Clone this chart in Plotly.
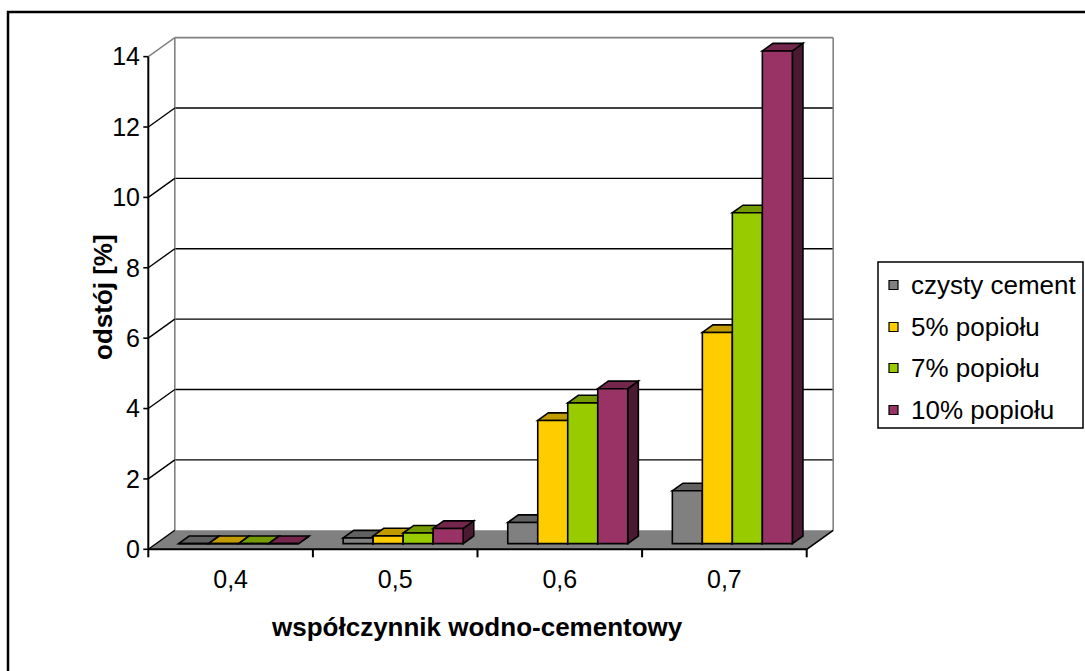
import plotly.graph_objects as go

# ---- data -------------------------------------------------------------
categories = ["0,4", "0,5", "0,6", "0,7"]
series_names = ["czysty cement", "5% popiołu", "7% popiołu", "10% popiołu"]
czysty_cement = [0.0, 0.16, 0.6, 1.5]
popiol_5 = [0.0, 0.22, 3.5, 6.0]
popiol_7 = [0.0, 0.30, 4.0, 9.4]
popiol_10 = [0.0, 0.43, 4.4, 14.0]
y_ticks = [0, 2, 4, 6, 8, 10, 12, 14]

series_values = [czysty_cement, popiol_5, popiol_7, popiol_10]
front_colors = ["#808080", "#FFCC00", "#99CC00", "#993366"]

FONT = "Liberation Sans"
TICK_SIZE = 25
LEGEND_SIZE = 26
TITLE_SIZE = 26


def shade(hex_color, k):
    r, g, b = (int(hex_color[i:i + 2], 16) for i in (1, 3, 5))
    return "#%02x%02x%02x" % (int(r * k), int(g * k), int(b * k))


top_colors = [shade(c, 0.76) for c in front_colors]
side_colors = [shade(c, 0.5) for c in front_colors]

# ---- page / plot-area geometry ---------------------------------------
FIG_W, FIG_H = 1085, 671
M_L, M_R, M_T, M_B = 141, 240, 30, 111
PLOT_W = FIG_W - M_L - M_R
PLOT_H = FIG_H - M_T - M_B
PX_CAT = 164.6          # pixels per category
PX_UNIT = 35.19         # pixels per value unit
AXIS_PX_X = 148.3       # front value axis
ZERO_PX_Y = 549.3       # front category axis

x_lo = -0.5 - (AXIS_PX_X - M_L) / PX_CAT
x_hi = x_lo + PLOT_W / PX_CAT
y_lo = -(M_T + PLOT_H - ZERO_PX_Y) / PX_UNIT
y_hi = y_lo + PLOT_H / PX_UNIT

# oblique depth of the floor / walls (in data units)
DX = 26.5 / PX_CAT
DY = 19.0 / PX_UNIT
Z_FRONT, Z_BACK = 0.3, 0.7
BW = 30.0 / PX_CAT      # bar width
n_cat = len(categories)
left_edge, right_edge = -0.5, n_cat - 0.5
v_max = y_ticks[-1]


def px_to_paper(px, py):
    return (px - M_L) / PLOT_W, (M_T + PLOT_H - py) / PLOT_H


def seg(x0, y0, x1, y1, color="black", width=1.5, layer="below"):
    return dict(type="line", xref="x", yref="y", x0=x0, y0=y0, x1=x1, y1=y1,
                line=dict(color=color, width=width), layer=layer)


def poly(points, fill, line_color="black", width=1.5, layer="below"):
    path = "M " + " L ".join("%.5f,%.5f" % p for p in points) + " Z"
    return dict(type="path", xref="x", yref="y", path=path, fillcolor=fill,
                line=dict(color=line_color, width=width), layer=layer)


shapes = []

# floor
shapes.append(poly([(left_edge, 0), (right_edge, 0), (right_edge + DX, DY),
                    (left_edge + DX, DY)], "#808080", line_color="rgba(0,0,0,0)", width=0))

# back wall gridlines and frame
for v in y_ticks[1:-1]:
    shapes.append(seg(left_edge + DX, v + DY, right_edge + DX, v + DY, width=1.4))
shapes.append(seg(left_edge + DX, DY, left_edge + DX, v_max + DY, color="#808080", width=1.6))
shapes.append(seg(right_edge + DX, DY, right_edge + DX, v_max + DY, color="#808080", width=1.6))
shapes.append(seg(left_edge + DX, v_max + DY, right_edge + DX, v_max + DY, color="#808080", width=1.6))

# side-wall gridlines
for v in y_ticks:
    col = "#808080" if v == v_max else "black"
    shapes.append(seg(left_edge, v, left_edge + DX, v + DY, color=col, width=1.4))

# floor right edge
shapes.append(seg(right_edge, 0, right_edge + DX, DY, width=1.6))

# value axis with tick marks
shapes.append(seg(left_edge, 0, left_edge, v_max, width=2))
for v in y_ticks:
    shapes.append(seg(left_edge - 5 / PX_CAT, v, left_edge, v, width=1.6))

# category axis with tick marks at category boundaries
shapes.append(seg(left_edge, 0, right_edge, 0, width=2))
for i in range(n_cat + 1):
    b = left_edge + i
    shapes.append(seg(b, 0, b, -8 / PX_UNIT, width=2))

# bar top and side faces (fronts are the bar traces)
base = Z_FRONT * DY
ddx = (Z_BACK - Z_FRONT) * DX
ddy = (Z_BACK - Z_FRONT) * DY
for ci in range(n_cat):
    for si, vals in enumerate(series_values):
        x0 = ci - 2 * BW + si * BW + Z_FRONT * DX
        top = base + vals[ci]
        shapes.append(poly([(x0 + BW, base), (x0 + BW, top), (x0 + BW + ddx, top + ddy),
                            (x0 + BW + ddx, base + ddy)], side_colors[si], width=1.6))
        shapes.append(poly([(x0, top), (x0 + BW, top), (x0 + BW + ddx, top + ddy),
                            (x0 + ddx, top + ddy)], top_colors[si], width=1.6))

# outer chart frame
fx0, fy0 = px_to_paper(8, 12)
fx1, fy1 = px_to_paper(1110, 700)
shapes.append(dict(type="rect", xref="paper", yref="paper", x0=fx0, y0=fy1, x1=fx1, y1=fy0,
                   line=dict(color="black", width=2.5), layer="above"))

# legend box with swatches
lx0, ly0 = px_to_paper(878, 262)
lx1, ly1 = px_to_paper(1083, 428)
shapes.append(dict(type="rect", xref="paper", yref="paper", x0=lx0, y0=ly1, x1=lx1, y1=ly0,
                   line=dict(color="black", width=1.5), fillcolor="white", layer="above"))
legend_rows = [285, 327, 368, 410]
annotations = []
for si, name in enumerate(series_names):
    cy = legend_rows[si]
    sx0, sy0 = px_to_paper(889, cy - 4.5)
    sx1, sy1 = px_to_paper(898, cy + 4.5)
    shapes.append(dict(type="rect", xref="paper", yref="paper", x0=sx0, y0=sy1, x1=sx1, y1=sy0,
                       fillcolor=front_colors[si], line=dict(color="black", width=1.2),
                       layer="above"))
    tx, ty = px_to_paper(909, cy)
    annotations.append(dict(xref="paper", yref="paper", x=tx, y=ty, text=name,
                            showarrow=False, xanchor="left", yanchor="middle",
                            font=dict(family=FONT, size=LEGEND_SIZE, color="black")))

# axis titles
ax_, ay_ = px_to_paper(103, 297)
annotations.append(dict(xref="paper", yref="paper", x=ax_, y=ay_, text="<b>odstój [%]</b>",
                        textangle=-90, showarrow=False, xanchor="center", yanchor="middle",
                        font=dict(family=FONT, size=TITLE_SIZE, color="black")))
bx_, by_ = px_to_paper(477, 627)
annotations.append(dict(xref="paper", yref="paper", x=bx_, y=by_,
                        text="<b>współczynnik wodno-cementowy</b>",
                        showarrow=False, xanchor="center", yanchor="middle",
                        font=dict(family=FONT, size=TITLE_SIZE, color="black")))

# ---- figure ----------------------------------------------------------
fig = go.Figure()
cat_pos = list(range(n_cat))
for si, (name, vals) in enumerate(zip(series_names, series_values)):
    fig.add_trace(go.Bar(
        x=cat_pos, y=vals, base=[base] * n_cat, name=name,
        width=BW, offset=-2 * BW + si * BW + Z_FRONT * DX,
        marker=dict(color=front_colors[si], line=dict(color="black", width=1.6)),
        showlegend=False, hoverinfo="skip",
    ))

fig.update_layout(
    width=FIG_W, height=FIG_H,
    margin=dict(l=M_L, r=M_R, t=M_T, b=M_B, pad=0),
    paper_bgcolor="white", plot_bgcolor="white",
    barmode="overlay", showlegend=False,
    shapes=shapes, annotations=annotations,
    font=dict(family=FONT, size=TICK_SIZE, color="black"),
)
fig.update_xaxes(range=[x_lo, x_hi], tickvals=cat_pos, ticktext=categories, ticks="",
                 showgrid=False, zeroline=False, showline=False, ticklabelstandoff=2,
                 tickfont=dict(family=FONT, size=TICK_SIZE, color="black"))
fig.update_yaxes(range=[y_lo, y_hi], tickvals=y_ticks, ticks="", showgrid=False,
                 zeroline=False, showline=False, ticklabelstandoff=0,
                 tickfont=dict(family=FONT, size=TICK_SIZE, color="black"))

fig.write_html("out.html", config={"displayModeBar": False})
